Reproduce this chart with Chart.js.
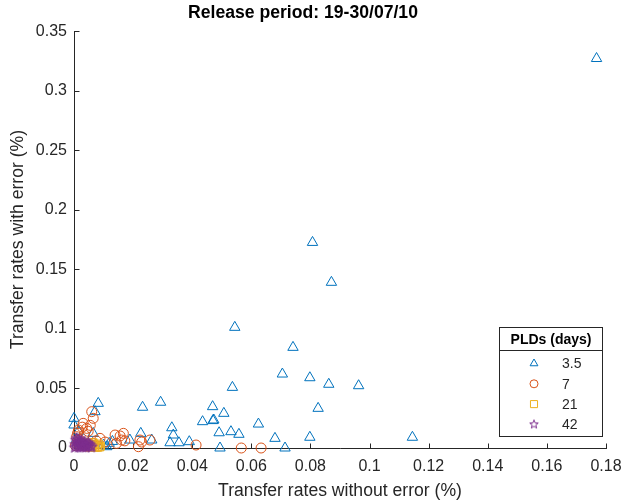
<!DOCTYPE html>
<html>
<head>
<meta charset="utf-8">
<script src="https://cdn.jsdelivr.net/npm/chart.js@4.4.1/dist/chart.umd.min.js"></script>
<style>
  html, body { margin: 0; padding: 0; background: #ffffff; }
  #wrap { width: 622px; height: 503px; }
</style>
</head>
<body>
<div id="wrap"><canvas id="chart" width="622" height="503"></canvas></div>
<script>
// [x, y] pairs, one list per PLD
const pld35 = [
  [0.1768, 0.327], [0.0807, 0.1726], [0.0871, 0.1391], [0.0544, 0.1013],
  [0.0741, 0.0845], [0.0705, 0.0621], [0.0798, 0.0590], [0.0862, 0.0535],
  [0.0963, 0.0523], [0.0536, 0.0509], [0.0826, 0.0333], [0.0469, 0.0347],
  [0.0293, 0.0384], [0.0232, 0.0342], [0.0507, 0.0291], [0.0473, 0.0235],
  [0.0470, 0.0230], [0.0435, 0.0221], [0.0624, 0.0201], [0.0331, 0.0170],
  [0.0336, 0.0109], [0.0325, 0.0044], [0.0355, 0.0044], [0.0390, 0.0053],
  [0.0491, 0.0128], [0.0531, 0.0137], [0.0558, 0.0115], [0.0680, 0.0081],
  [0.0798, 0.0090], [0.1145, 0.0090], [0.0494, 0.0000], [0.0714, 0.0000],
  [0.0226, 0.0123], [0.0189, 0.0067], [0.0263, 0.0067], [0.0082, 0.0375],
  [0.0071, 0.0305], [0.0000, 0.0249], [0.0000, 0.0193], [0.0065, 0.0123],
  [0.0119, 0.0039], [0.0111, 0.0011], [0.0100, 0.0025], [0.0130, 0.0055],
  [0.0015, 0.0140], [0.0008, 0.0070]
];
const pld7 = [
  [0.0060, 0.0305], [0.0065, 0.0249], [0.0031, 0.0207], [0.0015, 0.0151],
  [0.0043, 0.0165], [0.0009, 0.0095], [0.0088, 0.0081], [0.0139, 0.0109],
  [0.0156, 0.0101], [0.0144, 0.0039], [0.0161, 0.0067], [0.0218, 0.0011],
  [0.0223, 0.0067], [0.0257, 0.0067], [0.0167, 0.0123], [0.0172, 0.0060],
  [0.0229, 0.0050], [0.0413, 0.0025], [0.0566, 0.0000], [0.0633, 0.0000],
  [0.0065, 0.0039], [0.0020, 0.0067], [0.0035, 0.0110], [0.0055, 0.0190],
  [0.0025, 0.0040], [0.0105, 0.0050], [0.0080, 0.0015], [0.0005, 0.0020],
  [0.0012, 0.0125], [0.0048, 0.0140], [0.0028, 0.0175], [0.0075, 0.0060]
];
const pld21 = [
  [0.0083, 0.0034], [0.0060, 0.0020], [0.0070, 0.0010], [0.0050, 0.0040],
  [0.0040, 0.0010], [0.0030, 0.0030], [0.0020, 0.0015], [0.0080, 0.0005],
  [0.0090, 0.0015], [0.0010, 0.0040], [0.0055, 0.0005], [0.0045, 0.0025],
  [0.0065, 0.0045], [0.0015, 0.0060], [0.0035, 0.0050], [0.0075, 0.0025],
  [0.0068, 0.0030], [0.0087, 0.0008]
];
const pld42 = [
  [0.0005, 0.0010], [0.0010, 0.0030], [0.0015, 0.0005], [0.0020, 0.0020],
  [0.0025, 0.0045], [0.0030, 0.0010], [0.0035, 0.0030], [0.0040, 0.0005],
  [0.0045, 0.0020], [0.0050, 0.0010], [0.0008, 0.0055], [0.0018, 0.0038],
  [0.0028, 0.0025], [0.0038, 0.0015], [0.0012, 0.0018], [0.0022, 0.0008],
  [0.0032, 0.0040], [0.0042, 0.0035], [0.0055, 0.0025], [0.0003, 0.0030],
  [0.0048, 0.0045], [0.0006, 0.0068], [0.0016, 0.0072], [0.0026, 0.0062],
  [0.0060, 0.0012], [0.0002, 0.0002], [0.0013, 0.0048], [0.0024, 0.0032],
  [0.0034, 0.0020], [0.0044, 0.0012], [0.0036, 0.0055], [0.0052, 0.0035],
  [0.0019, 0.0058], [0.0009, 0.0082], [0.0029, 0.0005], [0.0058, 0.0005]
];

const legendLabels = ["3.5", "7", "21", "42"];
const legendTitle = "PLDs (days)";
const xTickValues = [0, 0.02, 0.04, 0.06, 0.08, 0.1, 0.12, 0.14, 0.16, 0.18];
const xTickLabels = ["0", "0.02", "0.04", "0.06", "0.08", "0.1", "0.12", "0.14", "0.16", "0.18"];
const yTickValues = [0, 0.05, 0.1, 0.15, 0.2, 0.25, 0.3, 0.35];
const yTickLabels = ["0", "0.05", "0.1", "0.15", "0.2", "0.25", "0.3", "0.35"];

const fontFamily = "\"Liberation Sans\", Arial, sans-serif";
const axisColor = "#262626";
const colors = ["#0072BD", "#D95319", "#EDB120", "#7E2F8E"];

function makeStar(r, color) {
  const c = document.createElement("canvas");
  const s = Math.ceil(r * 2 + 3);
  c.width = s;
  c.height = s;
  const g = c.getContext("2d");
  g.strokeStyle = color;
  g.lineWidth = 1;
  g.beginPath();
  for (let i = 0; i < 10; i++) {
    const rr = i % 2 ? r * 0.42 : r;
    const a = -Math.PI / 2 + i * Math.PI / 5;
    g.lineTo(s / 2 + rr * Math.cos(a), s / 2 + rr * Math.sin(a));
  }
  g.closePath();
  g.stroke();
  return c;
}

const starBig = makeStar(5.5, colors[3]);
const starSmall = makeStar(4.5, colors[3]);

const markers = [
  { style: "triangle", radius: 6, legendRadius: 4.5 },
  { style: "circle", radius: 5, legendRadius: 4 },
  { style: "rect", radius: 5.5, legendRadius: 5 },
  { style: starBig, radius: 5.5, legendStyle: starSmall, legendRadius: 4.5 }
];

function toPoints(list) {
  return list.map((p) => ({ x: p[0], y: p[1] }));
}

const seriesData = [pld35, pld7, pld21, pld42];

const datasets = seriesData.map((list, i) => ({
  label: legendLabels[i],
  data: toPoints(list),
  pointStyle: markers[i].style,
  pointRadius: markers[i].radius,
  pointHoverRadius: markers[i].radius,
  pointBorderWidth: 1,
  borderColor: colors[i],
  backgroundColor: "rgba(0,0,0,0)",
  pointBackgroundColor: "rgba(0,0,0,0)",
  pointBorderColor: colors[i],
  clip: false,
  order: 4 - i
}));

// MATLAB style axes: lines at left/bottom, ticks pointing inward
const axesPlugin = {
  id: "matlabAxes",
  beforeDatasetsDraw(chart) {
    const { ctx, chartArea, scales } = chart;
    const { left, right, top, bottom } = chartArea;
    const xs = scales.x;
    const ys = scales.y;
    ctx.save();
    ctx.strokeStyle = axisColor;
    ctx.lineWidth = 1;
    ctx.beginPath();
    const lx = Math.round(left) + 0.5;
    const by = Math.round(bottom) + 0.5;
    ctx.moveTo(lx, Math.round(top));
    ctx.lineTo(lx, by);
    ctx.lineTo(Math.round(right) + 1, by);
    xs.ticks.forEach((t) => {
      const px = Math.round(xs.getPixelForValue(t.value)) + 0.5;
      ctx.moveTo(px, by);
      ctx.lineTo(px, by - 5);
    });
    ys.ticks.forEach((t) => {
      const py = Math.round(ys.getPixelForValue(t.value)) + 0.5;
      ctx.moveTo(lx, py);
      ctx.lineTo(lx + 5, py);
    });
    ctx.stroke();
    ctx.restore();
  }
};

// boxed legend with a title row, drawn bottom right inside the axes
const legendPlugin = {
  id: "pldLegend",
  afterDraw(chart) {
    const { ctx, chartArea } = chart;
    const w = 103;
    const h = 109;
    const x0 = Math.round(chartArea.right) - 4 - w;
    const y0 = Math.round(chartArea.bottom) - 12 - h;
    ctx.save();
    ctx.fillStyle = "#ffffff";
    ctx.fillRect(x0, y0, w, h);
    ctx.strokeStyle = axisColor;
    ctx.lineWidth = 1;
    ctx.strokeRect(x0 + 0.5, y0 + 0.5, w, h);
    ctx.beginPath();
    ctx.moveTo(x0, y0 + 23.5);
    ctx.lineTo(x0 + w, y0 + 23.5);
    ctx.stroke();

    ctx.fillStyle = "#000000";
    ctx.font = "bold 14px " + fontFamily;
    ctx.textAlign = "center";
    ctx.textBaseline = "middle";
    ctx.fillText(legendTitle, x0 + w / 2 + 0.5, y0 + 13);

    ctx.font = "14px " + fontFamily;
    ctx.textAlign = "left";
    chart.data.datasets.forEach((ds, i) => {
      const ry = y0 + 36.5 + i * 20.3;
      const m = markers[i];
      ctx.strokeStyle = colors[i];
      ctx.fillStyle = "rgba(0,0,0,0)";
      ctx.lineWidth = 1;
      Chart.helpers.drawPoint(ctx, {
        pointStyle: m.legendStyle || m.style,
        radius: m.legendRadius,
        rotation: 0,
        borderWidth: 1
      }, x0 + 35, ry);
      ctx.fillStyle = axisColor;
      ctx.fillText(ds.label, x0 + 63, ry + 1);
    });
    ctx.restore();
  }
};

new Chart(document.getElementById("chart"), {
  type: "scatter",
  data: { datasets },
  options: {
    responsive: false,
    animation: false,
    devicePixelRatio: 1,
    layout: { padding: { left: 0, right: 16, top: 0, bottom: 0 } },
    plugins: {
      legend: { display: false },
      tooltip: { enabled: false },
      title: {
        display: true,
        text: "Release period: 19-30/07/10",
        color: "#000000",
        font: { family: fontFamily, size: 17.6, weight: "bold" },
        padding: { top: 3, bottom: 7 }
      }
    },
    scales: {
      x: {
        type: "linear",
        min: 0,
        max: 0.18,
        afterBuildTicks(scale) {
          scale.ticks = xTickValues.map((v) => ({ value: v }));
        },
        afterFit(scale) {
          scale.height = 55;
          scale.paddingLeft = 0;
          scale.paddingRight = 0;
        },
        grid: { display: false, drawTicks: false },
        border: { display: false },
        ticks: {
          color: axisColor,
          padding: 9,
          maxRotation: 0,
          autoSkip: false,
          font: { family: fontFamily, size: 16 },
          callback(value, index) {
            return xTickLabels[index];
          }
        },
        title: {
          display: true,
          text: "Transfer rates without error (%)",
          color: axisColor,
          font: { family: fontFamily, size: 17.6 },
          padding: { top: 0, bottom: 1 }
        }
      },
      y: {
        type: "linear",
        min: 0,
        max: 0.35,
        afterBuildTicks(scale) {
          scale.ticks = yTickValues.map((v) => ({ value: v }));
        },
        afterFit(scale) {
          scale.width = 74;
          scale.paddingTop = 0;
          scale.paddingBottom = 0;
        },
        grid: { display: false, drawTicks: false },
        border: { display: false },
        ticks: {
          color: axisColor,
          padding: 7,
          autoSkip: false,
          font: { family: fontFamily, size: 16 },
          callback(value, index) {
            return yTickLabels[index];
          }
        },
        title: {
          display: true,
          text: "Transfer rates with error (%)",
          color: axisColor,
          font: { family: fontFamily, size: 17.6 },
          padding: { top: 8, bottom: 0 }
        }
      }
    }
  },
  plugins: [axesPlugin, legendPlugin]
});
</script>
</body>
</html>
